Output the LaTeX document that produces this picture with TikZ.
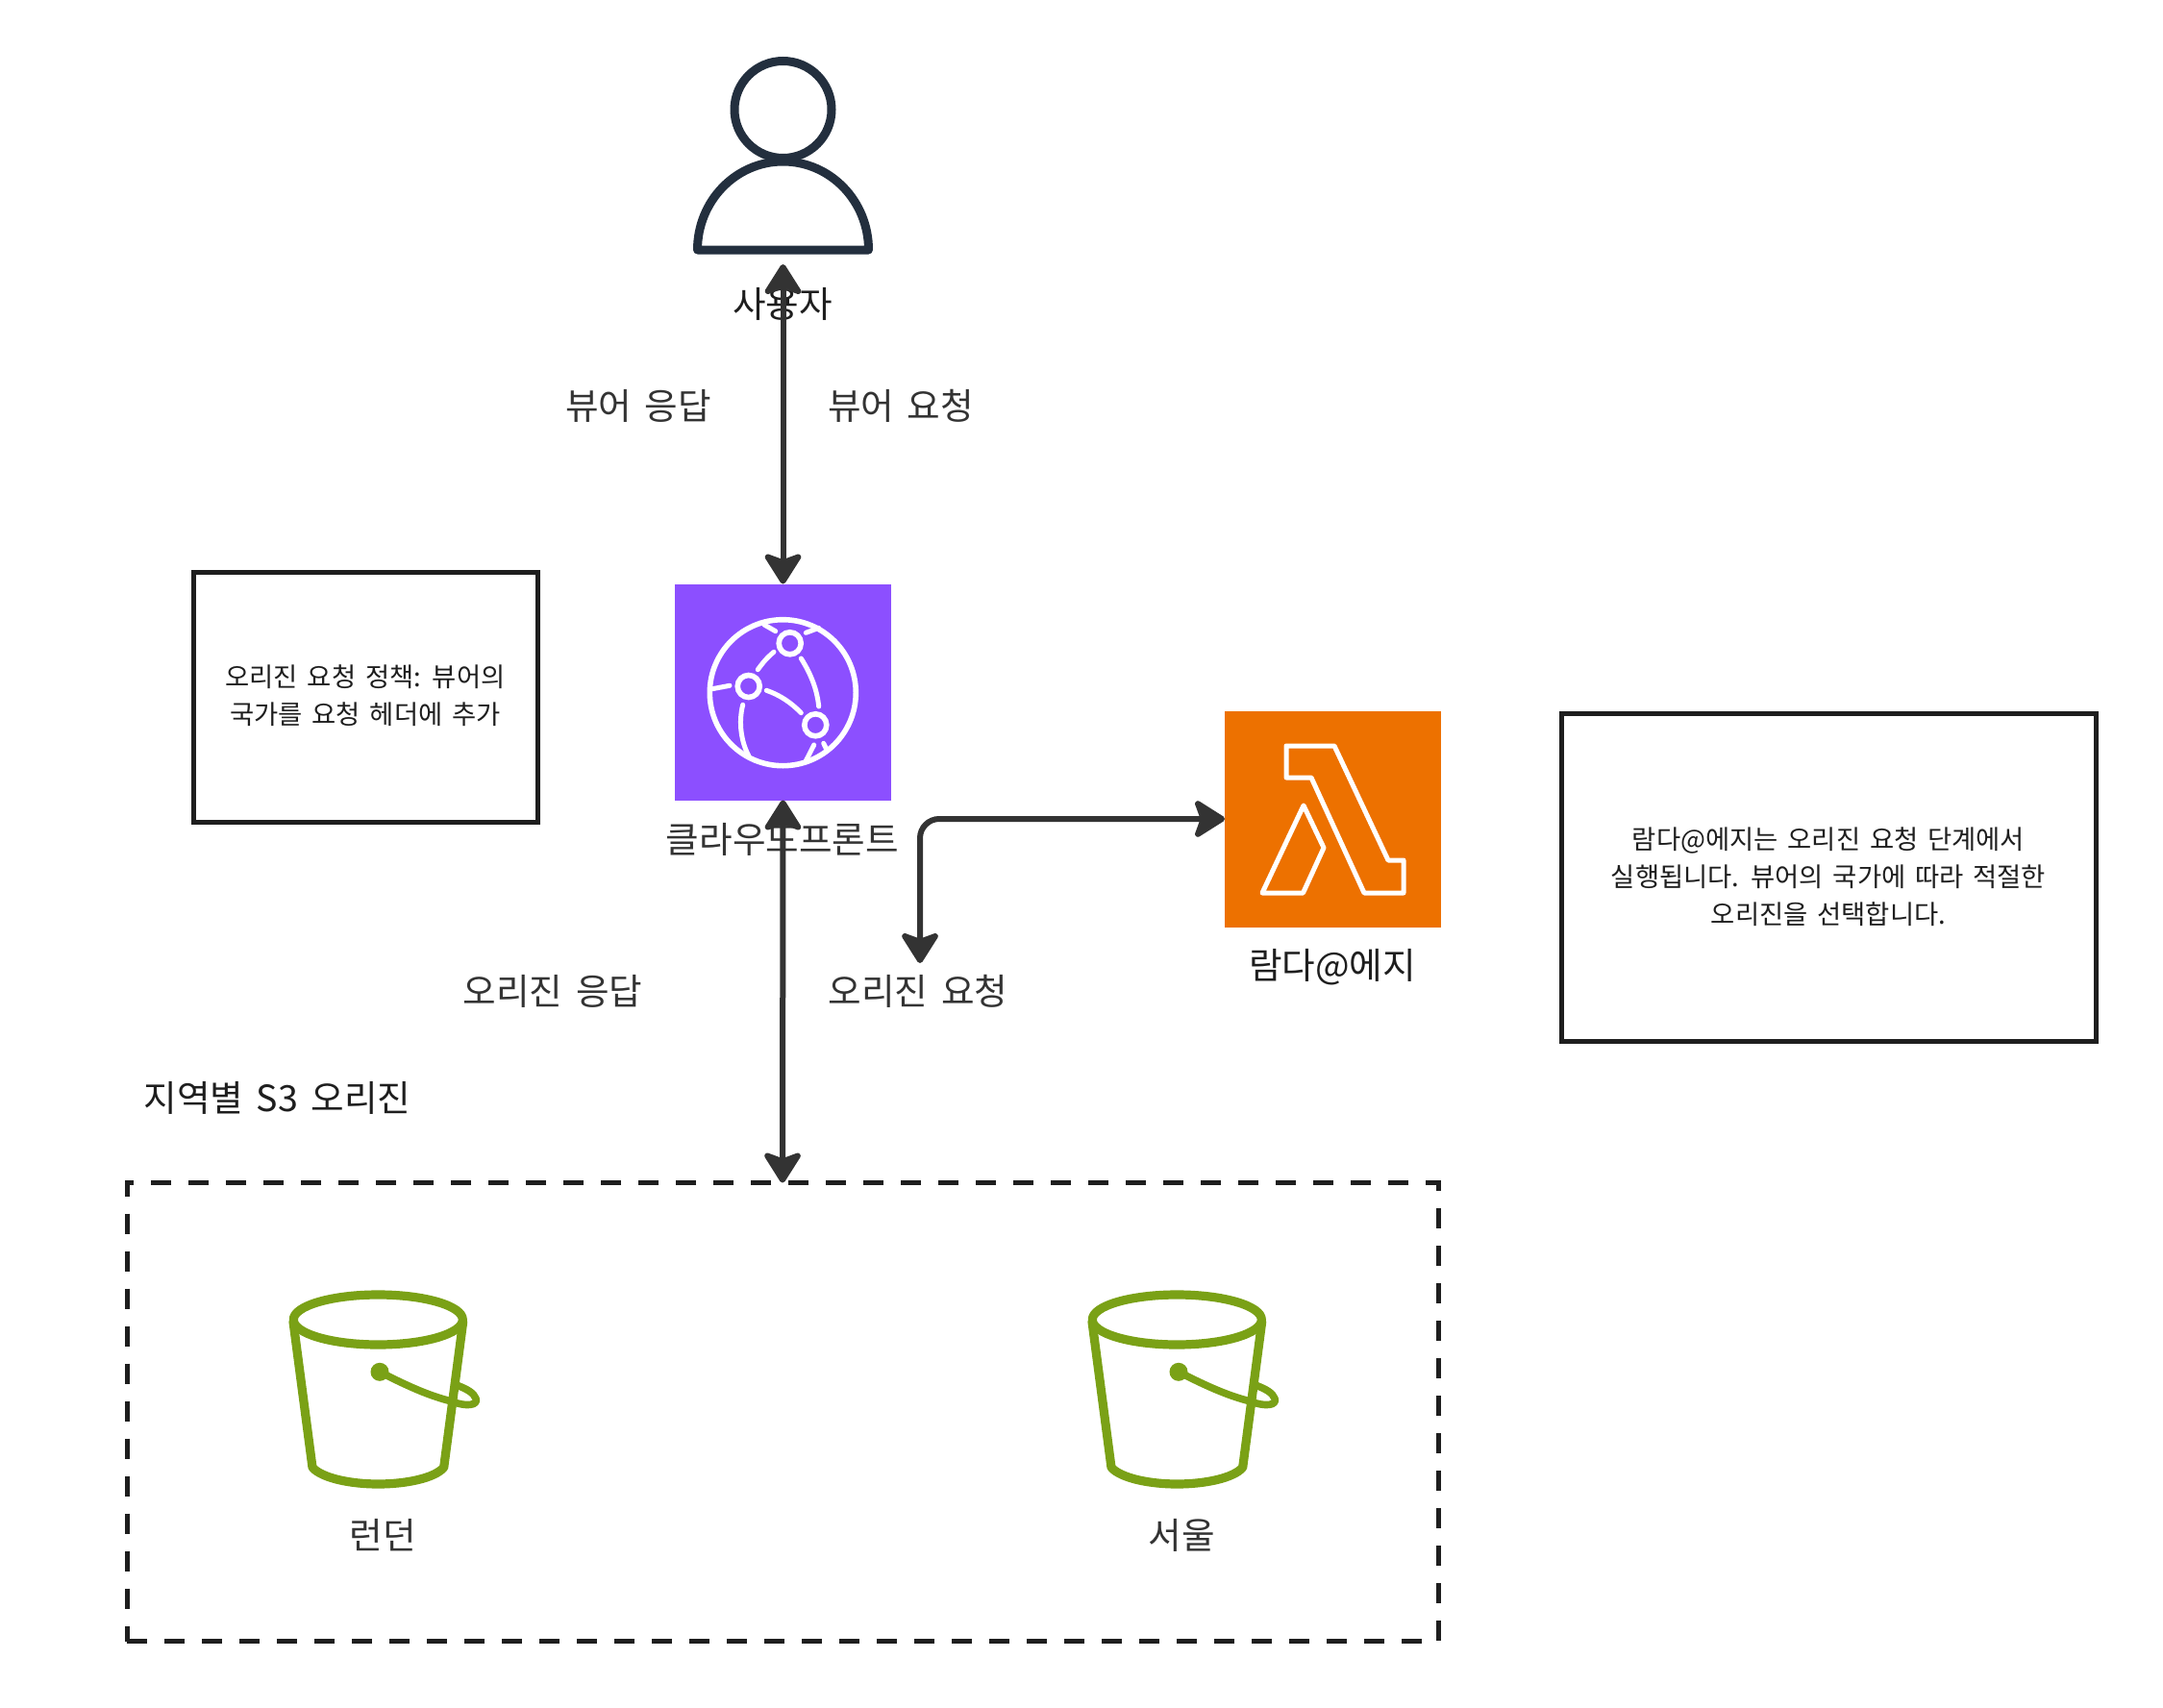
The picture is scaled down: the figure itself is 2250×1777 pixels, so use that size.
\documentclass[tikz,border=0pt]{standalone}
\usepackage{fontspec}
\setmainfont[WordSpace=1.6]{Noto Sans CJK KR}
\usetikzlibrary{arrows.meta}
\definecolor{ink}{HTML}{1E1E1E}
\definecolor{conn}{HTML}{333333}
\definecolor{personc}{HTML}{232F3E}
\definecolor{cfc}{HTML}{8C4FFF}
\definecolor{lamc}{HTML}{ED7100}
\definecolor{s3c}{HTML}{7AA116}
\tikzset{
  tip/.tip={Stealth[length=18pt,width=22.5pt,inset=4pt,round]},
  conn/.style={draw=conn,line width=3pt,{tip}-{tip},rounded corners=10pt},
  iconbox/.style={minimum width=112.5pt,minimum height=112.5pt,inner sep=0pt,outer sep=0pt},
  notebox/.style={draw=ink,line width=2.5pt,fill=white,inner sep=0pt,outer sep=0pt},
  groupbox/.style={draw=ink,line width=2.5pt,inner sep=0pt,outer sep=0pt,dash pattern=on 10.5pt off 9pt},
  lab/.style={font=\fontsize{18.8pt}{24pt}\selectfont,text=conn,inner sep=0pt,align=center},
  labk/.style={font=\fontsize{18.8pt}{24pt}\selectfont,text=ink,inner sep=0pt,align=center},
  small/.style={font=\fontsize{13.7pt}{19.5pt}\selectfont,text=ink,inner sep=0pt,align=center},
  ws/.style={draw=white,line width=2.5pt,line cap=round,line join=round},
  lamline/.style={draw=white,line width=2.5pt,line join=round},
  bucket/.style={draw=s3c,line width=4.6pt,line join=round,line cap=round}
}
\begin{document}
\begin{tikzpicture}[x=0.5pt,y=-0.5pt]
\useasboundingbox[fill=white] (0,0) rectangle (2250,1777);
% notes and group
\node[notebox,minimum width=179pt,minimum height=130pt] (notecf) at (380,725) {};
\node[small] (notecft) at (380,724) {오리진 요청 정책: 뷰어의\\국가를 요청 헤더에 추가};
\node[notebox,minimum width=278pt,minimum height=170.5pt] (notelam) at (1902,912.5) {};
\node[small] (notelamt) at (1902,912) {람다@에지는 오리진 요청 단계에서\\실행됩니다. 뷰어의 국가에 따라 적절한\\오리진을 선택합니다.};
\node[groupbox,minimum width=682pt,minimum height=238.5pt] (s3group) at (814,1469) {};
% person
\node[minimum width=90pt,minimum height=125pt,inner sep=0pt,outer sep=0pt] (user) at (814.5,150) {};
\draw[personc,line width=4.5pt] (814.5,114) circle[radius=50.5];
\draw[personc,line width=4.5pt,line join=round] (725.5,260) arc[start angle=180,end angle=360,x radius=89,y radius=92] -- cycle;
% cloudfront
\node[iconbox,fill=cfc] (cf) at (814.5,720) {};
\draw[white,line width=2.8pt] (814.3,720.7) circle[radius=76];
\foreach \p in {(821.7,669.3),(778.7,714),(848.3,754.3)} \draw[white,line width=2.8pt] \p circle[radius=11.5];
\draw[ws] (805,678.3) .. controls (798,684) and (793,690) .. (788.3,696.7);
\draw[ws] (833.3,685) .. controls (844,702) and (850,718) .. (851.7,735);
\draw[ws] (797.3,718.3) .. controls (811,723) and (823,731) .. (833.3,741.7);
\draw[ws] (741,716.7) -- (759,713.3);
\draw[ws] (772.7,733.3) .. controls (768,752) and (771,772) .. (779,786.7);
\draw[ws] (795,650) -- (806.7,656.7);
\draw[ws] (838.3,658.3) -- (851.7,653.3);
\draw[ws] (846.7,775) -- (838.3,791.7);
\draw[ws] (856.7,773.3) -- (860,780);
% lambda
\node[iconbox,fill=lamc] (lambda) at (1386.5,852) {};
\draw[lamline] (1338,776) -- (1388,776) -- (1444,895) -- (1460,895) -- (1460,929) -- (1419,929) -- (1364,809) -- (1338,809) -- cycle;
\draw[lamline] (1356,838) -- (1377,882) -- (1355.5,929) -- (1313,929) -- cycle;
% buckets
\foreach \dx/\nm in {0/a,831/b}{
\begin{scope}[xshift=\dx*0.5pt]
\draw[bucket] (393.3,1373) ellipse[x radius=88,y radius=26];
\draw[bucket] (305,1375) -- (325,1526.7) .. controls (335,1538) and (365,1544) .. (393.3,1544) .. controls (422,1544) and (452,1538) .. (461.7,1526.7) -- (481.7,1375);
\draw[bucket,line width=3.8pt] (395,1427.3) .. controls (420,1440) and (445,1452) .. (470,1458) .. controls (485,1464) and (498,1462) .. (495,1455) .. controls (493,1449) and (485,1445) .. (476.7,1441.7);
\fill[s3c] (395,1427.3) circle[radius=9.5];
\end{scope}}
% labels
\node[labk] (tuser) at (814,316) {사용자};
\node[lab] (tvresp) at (664,422) {뷰어 응답};
\node[lab] (tvreq) at (937,422) {뷰어 요청};
\node[lab] (tcf) at (814,873) {클라우드프론트};
\node[lab] (toresp) at (575,1031) {오리진 응답};
\node[lab] (toreq) at (955,1031) {오리진 요청};
\node[labk] (tlam) at (1386,1006) {람다@에지};
\node[labk] (tgroup) at (288.5,1142) {지역별 S3 오리진};
\node[lab] (tlon) at (398,1597) {런던};
\node[lab] (tseoul) at (1229,1597) {서울};
% connectors
\coordinate (elbowend) at (957,1002);
\draw[conn] (user.south) -- (cf.north);
\draw[conn] (cf.south) -- (s3group.north);
\draw[conn] (lambda.west) -| (elbowend);
\end{tikzpicture}
\end{document}
